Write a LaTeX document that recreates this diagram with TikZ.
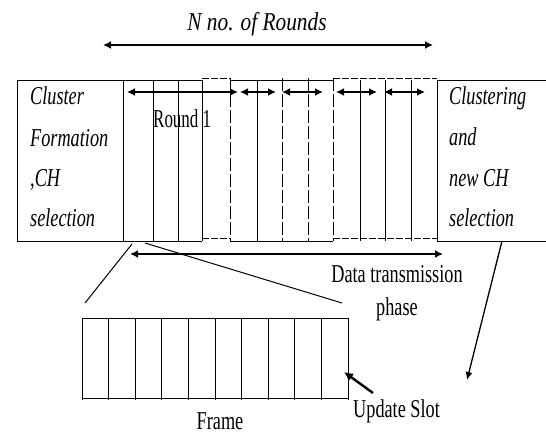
\documentclass[tikz,border=0pt]{standalone}
\usepackage{fontspec}
\setmainfont{Liberation Serif}
\usetikzlibrary{arrows.meta}
\newcommand{\cnd}[2][0.71]{\scalebox{#1}[1]{#2}}
\begin{document}
\begin{tikzpicture}[x=1pt,y=-1pt,
  lbl/.style={inner sep=0pt, font=\fontsize{25.7}{28}\selectfont},
  ilbl/.style={inner sep=0pt, font=\fontsize{25.7}{28}\selectfont\itshape},
  bar/.style={line width=1pt},
  dsh/.style={line width=1pt, dash pattern=on 7pt off 2pt},
  vdsh/.style={line width=1pt, dash pattern=on 13pt off 3pt},
  dbl/.style={line width=2.4pt, {Latex[length=8pt,width=8pt]}-{Latex[length=8pt,width=8pt]}},
  one/.style={line width=1.3pt, -{Latex[length=8pt,width=7pt]}},
  fat/.style={line width=2.4pt, -{Latex[length=9pt,width=9pt]}},
  slant/.style={line width=1pt}
]
\useasboundingbox (0,0) rectangle (546,434);

% title arrow
\node[ilbl, anchor=base] (title) at (257,30) {\cnd[0.83]{N no. of Rounds}};
\coordinate (na) at (103,45);
\coordinate (nb) at (433,45);
\draw[dbl] (na) -- (nb);

% bar: top edge
\draw[bar] (17,80) -- (202,80);
\draw[dsh] (202,78) -- (230,78);
\draw[bar] (230,80) -- (333,80);
\draw[dsh] (333,78) -- (437,78);
\draw[bar] (437,80) -- (546,80);
% bar: bottom edge
\draw[bar] (17,241) -- (202,241);
\draw[dsh] (202,238) -- (230,238);
\draw[bar] (230,241) -- (333,241);
\draw[dsh] (333,238) -- (437,238);
\draw[bar] (437,241) -- (546,241);
% verticals
\foreach \xx in {17,123,153,178,202,257,360,385,411,437}
  \draw[bar] (\xx,80) -- (\xx,241);
\foreach \xx in {230,282,308,333}
  \draw[vdsh] (\xx,78) -- (\xx,241);

% round arrows
\coordinate (a1) at (127,92);  \coordinate (b1) at (238,92);
\coordinate (a2) at (240,92);  \coordinate (b2) at (276,92);
\coordinate (a3) at (282,92);  \coordinate (b3) at (323,92);
\coordinate (a4) at (336,92);  \coordinate (b4) at (377,92);
\coordinate (a5) at (384,92);  \coordinate (b5) at (425,92);
\draw[dbl] (a1) -- (b1);
\draw[dbl] (a2) -- (b2);
\draw[dbl] (a3) -- (b3);
\draw[dbl] (a4) -- (b4);
\draw[dbl] (a5) -- (b5);

\node[lbl, anchor=base west] (round) at (153,127) {\cnd[0.66]{Round 1}};

% left text
\node[ilbl, anchor=base west] (l1) at (30,104) {\cnd{Cluster}};
\node[ilbl, anchor=base west] (l2) at (30,146) {\cnd{Formation}};
\node[ilbl, anchor=base west] (l3) at (30,186) {\cnd{,CH}};
\node[ilbl, anchor=base west] (l4) at (30,226) {\cnd{selection}};
% right text
\node[ilbl, anchor=base west] (r1) at (449,104) {\cnd{Clustering}};
\node[ilbl, anchor=base west] (r2) at (449,145) {\cnd{and}};
\node[ilbl, anchor=base west] (r3) at (449,186) {\cnd{new CH}};
\node[ilbl, anchor=base west] (r4) at (449,226) {\cnd{selection}};

% data transmission arrow
\coordinate (da) at (130,254);
\coordinate (db) at (443,254);
\draw[dbl] (da) -- (db);
\node[lbl, anchor=base] (dt) at (397,282) {\cnd{Data transmission}};
\node[lbl, anchor=base] (ph) at (397,315) {\cnd{phase}};

% zoom lines
\coordinate (z1a) at (132,244); \coordinate (z1b) at (85,303);
\coordinate (z2a) at (145,243); \coordinate (z2b) at (342,303);
\draw[slant] (z1a) -- (z1b);
\draw[slant] (z2a) -- (z2b);

% frame
\draw[bar] (82,318) -- (348,318);
\draw[bar] (82,398) -- (348,398);
\foreach \i in {0,...,10}
  \draw[bar] ({82+26.6*\i},318) -- ({82+26.6*\i},400);
\node[lbl, anchor=base] (frame) at (220,429) {\cnd{Frame}};

% update slot
\node[lbl, anchor=base west] (us) at (353,417) {\cnd{Update Slot}};
\coordinate (ua) at (373,393);
\coordinate (ub) at (344,372);
\draw[fat] (ua) -- (ub);

% new-round arrow
\coordinate (ca) at (502,241);
\coordinate (cb) at (467,380);
\draw[one] (ca) -- (cb);
\end{tikzpicture}
\end{document}
